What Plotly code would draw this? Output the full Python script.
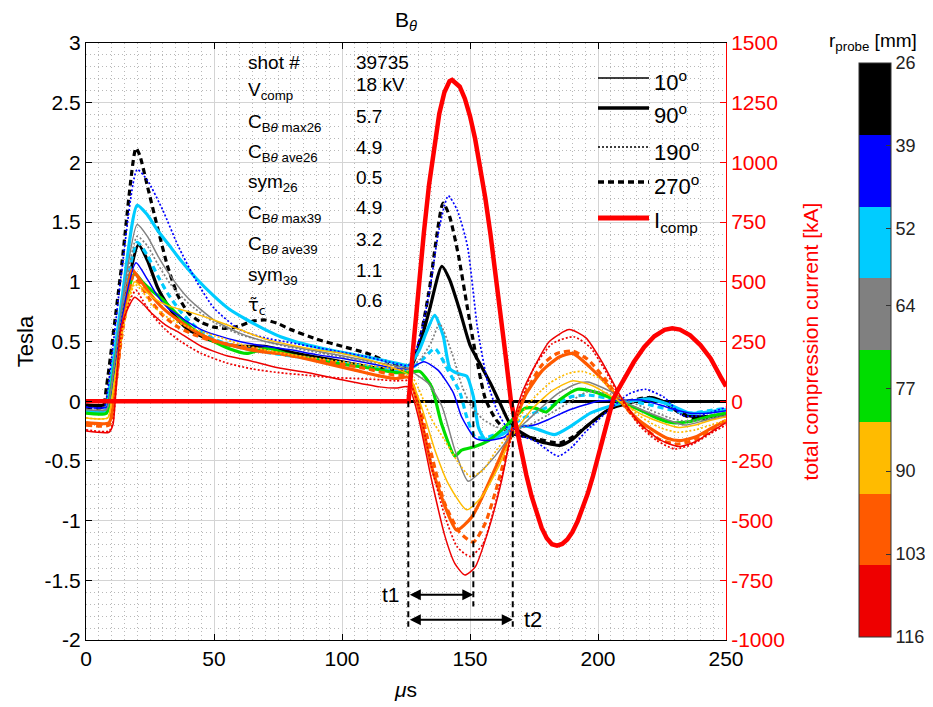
import plotly.graph_objects as go

# ---------------- data ----------------
x_ticks = [0, 50, 100, 150, 200, 250]
y_ticks = [-2, -1.5, -1, -0.5, 0, 0.5, 1, 1.5, 2, 2.5, 3]
y_ticklabels = ["-2", "-1.5", "-1", "-0.5", "0", "0.5", "1", "1.5", "2", "2.5", "3"]
y2_ticks = [-1000, -750, -500, -250, 0, 250, 500, 750, 1000, 1250, 1500]
y2_ticklabels = ["-1000", "-750", "-500", "-250", "0", "250", "500", "750", "1000", "1250", "1500"]

r_probe = [26, 39, 52, 64, 77, 90, 103, 116]
r_colors = ["#000000", "#0000ff", "#00ccff", "#808080", "#00dd00", "#ffbb00", "#ff5a00", "#ee0000"]

# compression current [kA]
t_icomp = [0, 126, 128, 130, 132, 134, 136, 138, 140, 142, 143, 146, 148, 150, 152, 154, 156, 158, 160, 162,
           164, 166, 168, 170, 172, 174, 176, 178, 180, 182, 184, 186, 188, 190, 192, 194, 196, 198, 200, 202,
           204, 206, 208, 210, 214, 218, 222, 226, 229, 232, 236, 240, 244, 248, 250]
i_comp = [0, 0, 247, 486, 708, 906, 1073, 1204, 1294, 1340, 1345, 1317, 1267, 1194, 1099, 983, 849, 699, 536, 362,
          183, 0, -107, -211, -309, -396, -471, -531, -574, -599, -605, -598, -579, -548, -504, -451, -387, -315, -237, -153,
          -67, 10, 51, 90, 164, 226, 272, 299, 305, 300, 276, 235, 179, 100, 62]

# B_theta [T]  r=26 mm, 270 deg
t_r26_270 = [0, 6.5, 8, 14, 19.5, 21, 24, 28, 32, 36, 40, 45, 50, 55, 60, 65, 70, 75, 80, 90, 100, 110, 120, 126, 130,
             134, 139.5, 142, 145.5, 149, 152, 156, 160, 165, 175, 185, 190, 195, 205, 212, 220, 226, 232, 238, 244, 250]
b_r26_270 = [-0.05, -0.05, 0.12, 1.15, 2.12, 2.06, 1.8, 1.45, 1.12, 0.88, 0.74, 0.66, 0.62, 0.61, 0.63, 0.67, 0.68, 0.65,
             0.6, 0.52, 0.46, 0.4, 0.31, 0.28, 0.48, 0.92, 1.66, 1.55, 1.22, 0.78, 0.42, 0.02, -0.15, -0.26, -0.31, -0.35,
             -0.3, -0.22, -0.06, 0.0, 0.03, -0.01, -0.1, -0.15, -0.14, -0.12]
# r=26 mm, 90 deg
t_r26_90 = [0, 7.5, 9, 14, 20.5, 24, 28, 32, 36, 40, 50, 60, 70, 80, 90, 100, 110, 120, 126, 130, 134, 139, 142, 146, 150,
            154, 158, 162, 166, 175, 185, 190, 195, 205, 213, 221, 228, 235, 242, 250]
b_r26_90 = [-0.03, -0.03, 0.08, 0.72, 1.31, 1.18, 0.95, 0.8, 0.68, 0.6, 0.5, 0.46, 0.46, 0.41, 0.37, 0.33, 0.29, 0.26, 0.25,
            0.45, 0.75, 1.13, 1.02, 0.76, 0.47, 0.31, 0.15, -0.03, -0.2, -0.32, -0.37, -0.32, -0.22, -0.06, -0.01, 0.03,
            -0.03, -0.12, -0.13, -0.11]
# r=39 mm, 190 deg
t_r39_190 = [0, 7, 8.5, 14, 20, 24, 30, 36, 43, 50, 60, 70, 80, 90, 100, 110, 120, 126, 130, 134, 138, 141.5, 145, 149,
             153, 157, 161, 166, 175, 184.5, 190, 195, 205, 212, 218.5, 226, 233, 240, 250]
b_r39_190 = [-0.05, -0.05, 0.1, 1.1, 1.94, 1.85, 1.6, 1.3, 1.01, 0.78, 0.6, 0.53, 0.49, 0.45, 0.41, 0.37, 0.32, 0.3, 0.5,
             0.9, 1.45, 1.72, 1.6, 1.3, 0.6, 0.15, -0.1, -0.26, -0.33, -0.46, -0.38, -0.26, -0.06, 0.06, 0.1, 0.03,
             -0.12, -0.12, -0.05]
# r=39 mm, 10 deg
t_r39_10 = [0, 8, 9.5, 14, 19.5, 24, 28, 32, 36, 40, 45, 50, 60, 70, 80, 90, 100, 110, 120, 126, 132, 137.5, 143.5, 146.7,
            152, 156, 163.5, 167.5, 175, 180, 188, 195, 200, 210, 217, 224, 230, 236, 243, 250]
b_r39_10 = [-0.05, -0.05, 0.05, 0.7, 1.16, 1.02, 0.88, 0.78, 0.72, 0.66, 0.6, 0.56, 0.5, 0.46, 0.43, 0.39, 0.36, 0.32, 0.28,
            0.27, 0.33, 0.26, 0.07, -0.13, -0.31, -0.33, -0.3, -0.22, -0.2, -0.16, -0.08, -0.03, 0.0, 0.01, 0.01, -0.03,
            -0.07, -0.1, -0.1, -0.08]
# r=52 mm, 90 deg
t_r52_90 = [0, 7.5, 9, 14, 20, 24, 28, 32, 37, 43, 50, 56, 63, 70, 76, 85, 95, 102, 110, 121, 126, 130, 133, 136.2, 139.5,
            142.2, 145.5, 148.7, 151.3, 153.3, 156, 162.4, 167, 172, 177, 183, 190, 197, 205, 213, 220, 228, 236, 243, 250]
b_r52_90 = [-0.08, -0.08, 0.08, 0.85, 1.64, 1.56, 1.43, 1.32, 1.18, 1.03, 0.88, 0.77, 0.68, 0.6, 0.54, 0.48, 0.43, 0.4,
            0.37, 0.32, 0.3, 0.42, 0.58, 0.72, 0.55, 0.27, 0.23, 0.21, 0.04, -0.22, -0.32, -0.28, -0.22, -0.21, -0.24,
            -0.28, -0.2, -0.1, -0.04, 0.0, 0.02, -0.03, -0.1, -0.09, -0.07]
# r=52 mm, 270 deg
t_r52_270 = [0, 7.5, 9, 14, 20, 24, 28, 32, 37, 43, 50, 60, 70, 80, 90, 100, 110, 120, 126, 131, 136.3, 141.4, 146.1, 148.7,
             152, 157, 163, 170, 177, 184, 190, 197, 205, 213, 220, 228, 236, 243, 250]
b_r52_270 = [-0.08, -0.08, 0.06, 0.75, 1.33, 1.22, 1.05, 0.9, 0.75, 0.62, 0.52, 0.45, 0.41, 0.38, 0.35, 0.32, 0.29, 0.26,
             0.26, 0.34, 0.44, 0.26, 0.07, -0.13, -0.3, -0.3, -0.25, -0.15, -0.08, -0.02, 0.04, 0.05, 0.02, 0.0, -0.03,
             -0.07, -0.1, -0.08, -0.06]
# r=64 mm, 10 deg
t_r64_10 = [0, 8, 9.5, 14, 20, 24, 28, 33, 40, 50, 60, 70, 80, 90, 100, 110, 120, 126, 128.5, 133.7, 139, 144.1, 149.3,
            154.6, 159.8, 166.3, 172, 177, 184, 191, 196, 205, 211, 218, 226.5, 234, 242, 250]
b_r64_10 = [-0.07, -0.07, 0.06, 0.8, 1.48, 1.38, 1.22, 1.05, 0.86, 0.68, 0.57, 0.5, 0.46, 0.42, 0.38, 0.34, 0.3, 0.27,
            0.23, 0.15, -0.04, -0.41, -0.67, -0.58, -0.46, -0.28, -0.17, -0.07, 0.06, 0.14, 0.16, 0.08, -0.01, -0.08,
            -0.15, -0.2, -0.16, -0.12]
# r=64 mm, 190 deg
t_r64_190 = [0, 8, 9.5, 14, 20, 24, 28, 33, 40, 50, 60, 70, 80, 90, 100, 110, 120, 126, 131, 135, 138.1, 143, 147, 150.7,
             155, 159.8, 166, 173, 180, 188, 196, 205, 212, 220, 228, 235, 242, 250]
b_r64_190 = [-0.07, -0.07, 0.06, 0.75, 1.38, 1.3, 1.15, 0.98, 0.82, 0.66, 0.56, 0.5, 0.45, 0.41, 0.37, 0.33, 0.3, 0.28,
             0.36, 0.5, 0.65, 0.4, 0.12, -0.05, -0.15, -0.21, -0.25, -0.2, -0.12, -0.02, 0.08, 0.06, 0.0, -0.07, -0.14,
             -0.17, -0.15, -0.12]
# r=77 mm, 90 deg
t_r77_90 = [0, 8, 9.5, 14, 19, 22, 26, 30, 36, 42, 50, 56, 62.8, 68, 72, 78, 88.8, 100, 110, 121, 126, 130.3, 135, 138.9,
            144.1, 146.7, 152, 157.2, 162.4, 166.3, 171.5, 175.8, 179.7, 184.9, 192, 200, 208, 216, 223, 229, 236, 243, 250]
b_r77_90 = [-0.1, -0.1, 0.05, 0.7, 1.07, 1.0, 0.92, 0.85, 0.72, 0.6, 0.5, 0.44, 0.4, 0.43, 0.44, 0.4, 0.35, 0.31, 0.28,
            0.24, 0.24, 0.25, 0.12, -0.19, -0.46, -0.41, -0.38, -0.33, -0.24, -0.16, -0.06, -0.06, -0.09, 0.01, 0.1,
            0.07, 0.0, -0.07, -0.14, -0.18, -0.17, -0.13, -0.1]
# r=90 mm, 10 deg
t_r90_10 = [0, 8.5, 10, 14, 19, 22, 26, 32, 40, 50, 60, 70, 80, 90, 100, 110, 120, 126, 131.1, 136.3, 141.5, 148.7, 154.6,
            161.1, 166.3, 174.5, 182.3, 190, 197.9, 208.3, 218, 225, 231.6, 238, 244, 250]
b_r90_10 = [-0.14, -0.14, 0.0, 0.6, 1.0, 0.95, 0.87, 0.8, 0.75, 0.68, 0.6, 0.52, 0.47, 0.43, 0.4, 0.35, 0.28, 0.22, -0.05,
            -0.41, -0.69, -0.91, -0.8, -0.55, -0.3, -0.06, 0.09, 0.17, 0.13, 0.0, -0.12, -0.18, -0.22, -0.2, -0.16, -0.13]
# r=90 mm, 190 deg
t_r90_190 = [0, 8.5, 10, 14, 19, 22, 26, 32, 40, 50, 60, 70, 80, 90, 100, 110, 120, 126, 130, 135, 140.2, 145, 150, 155,
             160, 166, 173, 181, 188, 193.6, 200, 208, 216, 224, 231, 238, 244, 250]
b_r90_190 = [-0.14, -0.14, 0.0, 0.55, 0.98, 0.92, 0.8, 0.7, 0.62, 0.55, 0.48, 0.43, 0.39, 0.36, 0.33, 0.3, 0.27, 0.25,
             0.1, -0.15, -0.33, -0.5, -0.63, -0.58, -0.42, -0.25, -0.02, 0.15, 0.23, 0.25, 0.2, 0.04, -0.12, -0.22, -0.26,
             -0.24, -0.2, -0.16]
# r=103 mm, 90 deg
t_r103_90 = [0, 9, 10.5, 14, 18, 21, 25, 30, 36, 43, 50, 60, 70, 76, 85, 95, 105, 115, 121, 126, 129.8, 135, 140.2, 144.8,
             150.7, 157.2, 162.4, 166.3, 171.9, 178.4, 184.9, 190.1, 196.6, 203.1, 210, 216, 221.3, 227, 232, 238, 244, 250]
b_r103_90 = [-0.18, -0.18, -0.05, 0.6, 1.1, 1.02, 0.9, 0.78, 0.68, 0.58, 0.51, 0.45, 0.41, 0.4, 0.36, 0.31, 0.26, 0.21,
             0.19, 0.2, -0.05, -0.55, -0.88, -1.08, -0.97, -0.69, -0.44, -0.24, 0.06, 0.26, 0.37, 0.4, 0.29, 0.15, -0.03,
             -0.16, -0.24, -0.31, -0.33, -0.3, -0.23, -0.16]
# r=103 mm, 270 deg
t_r103_270 = [0, 9, 10.5, 14, 18.5, 21, 25, 30, 36, 43, 50, 60, 70, 80, 90, 100, 110, 120, 126, 130, 135, 140, 146, 151.3,
              156, 161, 166, 172, 178, 184, 190, 196, 203, 210, 217, 224, 231, 238, 244, 250]
b_r103_270 = [-0.2, -0.2, -0.05, 0.55, 1.05, 0.98, 0.85, 0.72, 0.62, 0.55, 0.5, 0.46, 0.42, 0.38, 0.35, 0.31, 0.27, 0.22,
              0.21, -0.02, -0.45, -0.85, -1.1, -1.18, -1.02, -0.68, -0.28, 0.08, 0.3, 0.4, 0.42, 0.35, 0.18, -0.03, -0.2,
              -0.32, -0.36, -0.32, -0.24, -0.16]
# r=116 mm, 10 deg
t_r116_10 = [0, 9, 10.5, 12, 13.5, 16, 19, 22, 26, 31, 36.7, 45, 55, 62.8, 75, 88.8, 100, 114.8, 121, 126, 129.8, 135,
             140.2, 144.1, 148, 152, 157.2, 162.4, 166.3, 170, 174.5, 181, 188.8, 195.3, 201.8, 208.3, 216.1, 223.9,
             231.6, 238, 244, 250]
b_r116_10 = [-0.25, -0.26, -0.2, 0.2, 0.6, 0.76, 0.87, 0.82, 0.73, 0.64, 0.57, 0.46, 0.38, 0.345, 0.28, 0.23, 0.18, 0.12,
             0.11, 0.12, -0.13, -0.66, -1.13, -1.36, -1.456, -1.39, -1.08, -0.66, -0.24, 0.05, 0.26, 0.5, 0.6, 0.53, 0.32,
             0.06, -0.18, -0.32, -0.38, -0.34, -0.26, -0.18]
# r=116 mm, 190 deg
t_r116_190 = [0, 9, 10.5, 12, 14, 17, 19.5, 22, 26, 31, 37, 45, 55, 65, 75, 85, 95, 105, 115, 121, 126, 130, 135, 140,
              145, 150, 155, 160, 165, 170, 175, 182, 190.5, 197, 203, 209, 216, 223, 230, 237, 244, 250]
b_r116_190 = [-0.24, -0.25, -0.18, 0.2, 0.6, 0.84, 0.93, 0.85, 0.72, 0.6, 0.5, 0.4, 0.32, 0.27, 0.24, 0.22, 0.2, 0.19,
              0.18, 0.17, 0.17, -0.05, -0.55, -0.95, -1.22, -1.3, -1.2, -0.85, -0.4, 0.0, 0.28, 0.48, 0.54, 0.45, 0.25,
              0.02, -0.2, -0.33, -0.4, -0.36, -0.27, -0.2]

# timing markers [us] and arrow heights [T]
t_start, t1_end, t2_end = 125.9, 151.3, 166.7
t1_level, t2_level = -1.62, -1.83

info_labels = ["shot #", "V<sub>comp</sub>", "C<sub>B<i>θ</i> max26</sub>", "C<sub>B<i>θ</i> ave26</sub>",
               "sym<sub>26</sub>", "C<sub>B<i>θ</i> max39</sub>", "C<sub>B<i>θ</i> ave39</sub>", "sym<sub>39</sub>",
               "τ̃<sub>c</sub>"]
info_values = ["39735", "18 kV", "5.7", "4.9", "0.5", "4.9", "3.2", "1.1", "0.6"]
legend_labels = ["10<sup>o</sup>", "90<sup>o</sup>", "190<sup>o</sup>", "270<sup>o</sup>", "I<sub>comp</sub>"]

# ---------------- styling helpers ----------------
# the page body has an 8 px default margin; the figure is sized to fit inside the window
OFF = 8
W, H = 933 - OFF, 707 - OFF
ML, MT = 86 - OFF, 43 - OFF
PW, PH = 640, 597
MR, MB = W - ML - PW, H - MT - PH
FONT = "Liberation Sans, Arial, sans-serif"


def fx(px):  # window pixel -> paper fraction
    return (px - OFF - ML) / PW


def fy(py):
    return (MT + PH - (py - OFF)) / PH


THIN, THICK = 1.5, 3.2
DOT, DASH = "2px,2px", "6px,4px"
angle_style = {10: ("solid", THIN), 90: ("solid", THICK), 190: (DOT, 1.7), 270: (DASH, THICK)}

curves = [
    (t_r26_270, b_r26_270, 26, 270), (t_r26_90, b_r26_90, 26, 90),
    (t_r52_90, b_r52_90, 52, 90), (t_r52_270, b_r52_270, 52, 270),
    (t_r77_90, b_r77_90, 77, 90),
    (t_r103_90, b_r103_90, 103, 90), (t_r103_270, b_r103_270, 103, 270),
    (t_r39_190, b_r39_190, 39, 190), (t_r39_10, b_r39_10, 39, 10),
    (t_r64_10, b_r64_10, 64, 10), (t_r64_190, b_r64_190, 64, 190),
    (t_r90_10, b_r90_10, 90, 10), (t_r90_190, b_r90_190, 90, 190),
    (t_r116_10, b_r116_10, 116, 10), (t_r116_190, b_r116_190, 116, 190),
]

fig = go.Figure()
for t, b, r, ang in curves:
    dash, width = angle_style[ang]
    fig.add_trace(go.Scatter(
        x=t, y=b, mode="lines", showlegend=False, hoverinfo="skip",
        name=f"r={r} mm, {ang} deg",
        line=dict(color=r_colors[r_probe.index(r)], dash=dash, width=width, shape="spline", smoothing=0.6)))

fig.add_trace(go.Scatter(x=t_icomp, y=i_comp, yaxis="y2", mode="lines", showlegend=False,
                         name="I_comp", hoverinfo="skip",
                         line=dict(color="#ff0000", width=4.5)))

# colour bar (discrete); values negated so that 26 sits at the top as in the original
n = len(r_colors)
cscale = []
for i, c in enumerate(reversed(r_colors)):
    cscale += [[i / n, c], [(i + 1) / n, c]]
fig.add_trace(go.Scatter(
    x=[None], y=[None], mode="markers", showlegend=False, hoverinfo="skip",
    marker=dict(color=[-r_probe[0]], cmin=-r_probe[-1], cmax=-r_probe[0], colorscale=cscale, showscale=True,
                colorbar=dict(x=fx(859), xanchor="left", y=fy(350), yanchor="middle", xpad=0, ypad=0,
                              len=574, lenmode="pixels", thickness=32, thicknessmode="pixels",
                              tickvals=[-v for v in r_probe], ticktext=[str(v) for v in r_probe],
                              ticks="inside", ticklen=5, tickcolor="#333",
                              tickfont=dict(size=18, color="#222", family=FONT),
                              outlinewidth=1, outlinecolor="#333"))))

shapes = []
for xv, ybot in [(t_start, -1.89), (t1_end, -1.72), (t2_end, -1.89)]:
    shapes.append(dict(type="line", xref="x", yref="y", x0=xv, x1=xv, y0=0, y1=ybot,
                       line=dict(color="black", width=2, dash="6px,4px")))

leg_styles = [("black", "solid", THIN), ("black", "solid", THICK + 0.5), ("black", DOT, 1.7),
              ("black", DASH, THICK + 0.5), ("#ff0000", "solid", 5)]
leg_line_y = [78, 108, 147, 182, 218]
for (col, dsh, wd), ly in zip(leg_styles, leg_line_y):
    shapes.append(dict(type="line", xref="paper", yref="paper", x0=fx(598), x1=fx(649), y0=fy(ly), y1=fy(ly),
                       line=dict(color=col, dash=dsh, width=wd)))

annotations = []
annotations.append(dict(text="B<sub><i>θ</i></sub>", xref="paper", yref="paper", x=fx(406), y=fy(21),
                        xanchor="center", yanchor="middle",
                        showarrow=False, font=dict(size=21, family=FONT, color="black")))
row_y = [62.7, 85, 116.7, 147, 177, 208, 239, 270, 300]
for lab, val, ry in zip(info_labels, info_values, row_y):
    has_sub = "<sub>" in lab
    fam = "DejaVu Sans" if "τ" in lab else FONT
    annotations.append(dict(text=lab, xref="paper", yref="paper", x=fx(246), y=fy(ry + (6 if has_sub else 0)),
                            xanchor="left", yanchor="middle", showarrow=False,
                            font=dict(size=18 if "τ" in lab else 19, family=fam, color="black")))
    annotations.append(dict(text=val, xref="paper", yref="paper", x=fx(354), y=fy(ry),
                            xanchor="left", yanchor="middle", showarrow=False,
                            font=dict(size=19, family=FONT, color="black")))
leg_text_y = [81, 114, 151, 185, 222]
for lab, ty in zip(legend_labels, leg_text_y):
    annotations.append(dict(text=lab, xref="paper", yref="paper", x=fx(652), y=fy(ty),
                            xanchor="left", yanchor="middle", showarrow=False,
                            font=dict(size=22, family=FONT, color="black")))
for x_end, lvl in [(t1_end, t1_level), (t2_end, t2_level)]:
    annotations.append(dict(text="", x=x_end, y=lvl, ax=t_start, ay=lvl, xref="x", yref="y", axref="x", ayref="y",
                            showarrow=True, arrowhead=2, arrowside="end+start", arrowsize=1.1, arrowwidth=2,
                            arrowcolor="black"))
annotations.append(dict(text="t1", xref="x", yref="y", x=t_start - 2.5, y=t1_level, xanchor="right",
                        yanchor="middle", showarrow=False, font=dict(size=21, family=FONT, color="black")))
annotations.append(dict(text="t2", xref="x", yref="y", x=t2_end + 3.5, y=t2_level, xanchor="left",
                        yanchor="middle", showarrow=False, font=dict(size=22, family=FONT, color="black")))
annotations.append(dict(text="r<sub>probe</sub> [mm]", xref="paper", yref="paper", x=fx(873), y=fy(42),
                        xanchor="center", yanchor="middle", showarrow=False,
                        font=dict(size=19, family=FONT, color="black")))

GRID = "#d4d4d4"
MINOR = "#b8b8b8"
fig.update_layout(
    width=W, height=H, margin=dict(l=ML, r=MR, t=MT, b=MB, autoexpand=False),
    paper_bgcolor="white", plot_bgcolor="white",
    font=dict(family=FONT, color="black"),
    showlegend=False,
    xaxis=dict(range=[0, 250], tickvals=x_ticks, ticks="inside", ticklen=6, tickcolor="black",
               showline=True, linecolor="black", linewidth=1, mirror="ticks",
               showgrid=True, gridcolor=GRID, gridwidth=1, zeroline=False,
               tickfont=dict(size=21, family=FONT, color="black"),
               minor=dict(dtick=5, showgrid=True, gridcolor=MINOR, griddash="1px,3px", gridwidth=1),
               title=dict(text="<i>μ</i>s", font=dict(size=21, family=FONT, color="black"), standoff=13)),
    yaxis=dict(range=[-2, 3], tickvals=y_ticks, ticktext=y_ticklabels, ticks="inside", ticklen=6,
               tickcolor="black", showline=True, linecolor="black", linewidth=1,
               showgrid=True, gridcolor=GRID, gridwidth=1,
               zeroline=True, zerolinecolor="black", zerolinewidth=2.5,
               tickfont=dict(size=21, family=FONT, color="black"),
               minor=dict(dtick=0.1, showgrid=True, gridcolor=MINOR, griddash="1px,3px", gridwidth=1),
               title=dict(text="Tesla", font=dict(size=22, family=FONT, color="black"), standoff=4)),
    yaxis2=dict(range=[-1000, 1500], overlaying="y", side="right", tickvals=y2_ticks, ticktext=y2_ticklabels,
                ticks="inside", ticklen=6, tickcolor="#ff0000", showline=True, linecolor="#ff0000", linewidth=1,
                showgrid=False, zeroline=False,
                tickfont=dict(size=21, family=FONT, color="#ff0000"),
                title=dict(text="total compression current [kA]", font=dict(size=21, family=FONT, color="#ff0000"),
                           standoff=19)),
    shapes=shapes,
    annotations=annotations,
)

fig.write_html("out.html")
